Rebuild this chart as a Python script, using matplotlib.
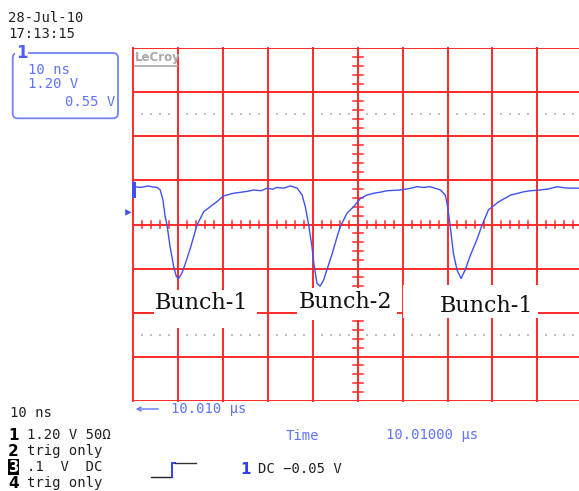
import numpy as np
import matplotlib
matplotlib.use("Agg")
import matplotlib.pyplot as plt
from matplotlib.patches import Rectangle, FancyBboxPatch, FancyArrowPatch, Polygon
from matplotlib.lines import Line2D

# trace: time (ns, 0 = centre of screen), voltage (V, 0 = centre line)
t_ns = [-49.9, -48.4, -46.7, -45.6, -44.7, -44.0, -43.4, -42.9, -42.5, -41.8, -41.0,
        -40.4, -39.9, -39.2, -38.4, -37.3, -35.8, -34.3, -32.8, -31.4, -29.9, -27.7,
        -25.4, -24.3, -23.2, -21.5, -20.2, -19.0, -18.0, -16.5, -15.0, -13.5, -12.4, -11.7, -11.0,
        -10.2, -9.8, -9.1, -8.4, -7.6, -6.9, -5.7, -4.6, -3.9, -2.4, -0.9, 0.6, 2.0,
        3.5, 5.0, 6.5, 9.5, 11.5, 13.2, 14.6, 16.1, 18.4, 19.5, 20.0, 20.6, 21.3, 22.1, 23.0,
        23.9, 25.1, 26.5, 27.7, 29.1, 31.4, 34.0, 36.9, 38.5, 40.6, 42.5, 44.4, 46.0,
        47.3, 49.3]
v_volts = [1.03, 1.01, 1.05, 1.02, 1.01, 0.94, 0.67, 0.21, -0.01, -0.61, -1.15,
           -1.42, -1.47, -1.33, -1.06, -0.65, -0.01, 0.35, 0.49, 0.62, 0.78, 0.85,
           0.89, 0.91, 0.94, 0.92, 0.99, 0.96, 1.01, 0.99, 1.05, 0.99, 0.80, 0.49, 0.03,
           -0.61, -1.06, -1.60, -1.68, -1.51, -1.24, -0.79, -0.33, -0.06, 0.31, 0.49, 0.71, 0.80,
           0.85, 0.88, 0.92, 0.94, 0.98, 1.03, 1.01, 1.03, 0.94, 0.80, 0.49, -0.06, -0.79, -1.24, -1.47,
           -1.24, -0.83, -0.42, -0.01, 0.40, 0.62, 0.80, 0.89, 0.92, 0.94, 0.97, 1.03, 1.00,
           0.99, 0.99]

labels = ["Bunch-1", "Bunch-2", "Bunch-1"]
label_t = [-34.7, -2.8, 28.6]
label_v = [-2.13, -2.11, -2.22]
box_t = [(-45.5, -22.4), (-13.5, 8.8), (10.1, 40.2)]
box_v = [(-2.82, -1.79), (-2.60, -1.73), (-2.55, -1.65)]

ns_per_div = 10
v_per_div = 1.2
ch_marker_v = 0.94
trig_v = 0.33

RED = "#ff2a2a"
TRACE = "#3f52ee"
BLUE_TXT = "#5f74f6"
W, H = 579, 491

fig = plt.figure(figsize=(W / 100, H / 100), dpi=100)
pix = fig.dpi_scale_trans


def P(x, y):
    # pixel position (from top-left) -> inches for dpi_scale_trans
    return x / 100, (H - y) / 100


def ftext(x, y, s, **kw):
    kw.setdefault("family", "DejaVu Sans Mono")
    kw.setdefault("fontsize", 10)
    kw.setdefault("va", "center")
    fig.text(*P(x, y), s, transform=pix, **kw)


ax = fig.add_axes([133.3 / W, (H - 400.7) / H, 449 / W, 352.4 / H])
ax.set_xlim(-5 * ns_per_div, 5 * ns_per_div)
ax.set_ylim(-4 * v_per_div, 4 * v_per_div)
ax.axis("off")

# graticule
for k in range(-5, 6):
    ax.axvline(k * ns_per_div, color=RED, lw=1.4, zorder=1, clip_on=False)
for k in range(-4, 5):
    ax.axhline(k * v_per_div, color=RED, lw=1.4, zorder=1)

# minor ticks on the centre cross
for t in np.arange(-50, 50.1, 2):
    if t % 10:
        ax.plot([t, t], [-0.09, 0.09], color=RED, lw=1.1, zorder=1)
for v in np.arange(-4.8, 4.81, 0.24):
    if abs(round(v / 1.2) * 1.2 - v) > 0.01:
        ax.plot([-1.1, 1.1], [v, v], color=RED, lw=1.1, zorder=1)

# grey dotted lines
dot_t = [t for t in np.arange(-48, 50, 2) if t % 10]
for v in (2.5 * v_per_div, -2.5 * v_per_div):
    ax.scatter(dot_t, [v] * len(dot_t), s=0.6, color="#c0c0c0", marker="s", zorder=1, lw=0)

# label boxes and text
for s, tx, vy, (t0, t1), (v0, v1) in zip(labels, label_t, label_v, box_t, box_v):
    ax.add_patch(Rectangle((t0, v0), t1 - t0, v1 - v0, facecolor="white",
                           edgecolor="none", zorder=3))
    ax.text(tx, vy, s, family="DejaVu Serif", fontsize=16, ha="center", va="center",
            color="#111111", zorder=4)

ax.plot(t_ns, v_volts, color=TRACE, lw=1.0, zorder=5)

# channel marker and trigger level
ax.add_patch(Rectangle((-50.4, ch_marker_v - 0.22), 0.9, 0.44, facecolor=TRACE,
                       edgecolor="none", zorder=6, clip_on=False))
ax.add_patch(Polygon([(-51.8, trig_v + 0.09), (-51.8, trig_v - 0.09), (-50.4, trig_v)],
                     closed=True, facecolor=TRACE, edgecolor="none", zorder=6, clip_on=False))

# LeCroy logo
ftext(135, 57.5, "LeCroy", family="DejaVu Sans", fontsize=8.5, weight="bold",
      color="#a8a8a8")
fig.add_artist(Line2D([P(135, 65.5)[0], P(177, 65.5)[0]], [P(135, 65.5)[1]] * 2,
                      transform=pix, color="#a8a8a8", lw=1.2))

# date/time
ftext(8, 18, "28-Jul-10", color="#222222")
ftext(8, 34, "17:13:15", color="#222222")

# channel box
fig.add_artist(FancyBboxPatch(P(12.7, 118.3), (118 - 12.7) / 100, (118.3 - 53) / 100,
                              boxstyle="round,pad=0,rounding_size=0.05", transform=pix,
                              facecolor="none", edgecolor="#7384f4", lw=1.3))
ftext(16, 53, "1", family="DejaVu Sans", fontsize=12, weight="bold", color="#4c5ff0",
      bbox=dict(facecolor="white", edgecolor="none", pad=0.5))
ftext(28, 70, "10 ns", color=BLUE_TXT)
ftext(28, 84.5, "1.20 V", color=BLUE_TXT)
ftext(115, 102, "0.55 V", color=BLUE_TXT, ha="right")

# bottom left readout
ftext(10, 413, "10 ns", color="#222222")
rows = [("1", "1.20 V 50\u03a9", 435), ("2", "trig only", 451.5),
        ("3", ".1  V  DC", 467), ("4", "trig only", 483)]
for num, s, y in rows:
    if num == "3":
        ftext(8, y, num, family="DejaVu Sans", fontsize=10.5, weight="bold", color="white",
              bbox=dict(facecolor="black", edgecolor="none", pad=0.3))
    else:
        ftext(8, y, num, family="DejaVu Sans", fontsize=11, weight="bold", color="black")
    ftext(27, y, s, color="#222222")

# timebase readouts
fig.add_artist(FancyArrowPatch(P(161, 409), P(133, 409), transform=pix, arrowstyle="->",
                               mutation_scale=7, color=BLUE_TXT, lw=1.0))
ftext(171, 409, "10.010 \u00b5s", color=BLUE_TXT)
ftext(286, 435.5, "Time", color=BLUE_TXT)
ftext(386, 435.5, "10.01000 \u00b5s", color=BLUE_TXT)

# trigger symbol
xs, ys = zip(P(151, 477), P(172, 477))
fig.add_artist(Line2D(xs, ys, transform=pix, color="#222222", lw=1.0))
xs, ys = zip(P(172, 477), P(172, 463), P(175, 463))
fig.add_artist(Line2D(xs, ys, transform=pix, color="#3040ee", lw=1.4))
xs, ys = zip(P(175, 463), P(196, 463))
fig.add_artist(Line2D(xs, ys, transform=pix, color="#333333", lw=1.0))
ftext(240, 469, "1", family="DejaVu Sans", fontsize=11, weight="bold", color="#3040ee")
ftext(258, 469, "DC \u22120.05 V", color="#222222")

fig.savefig("out.png", dpi=100, facecolor="white")
